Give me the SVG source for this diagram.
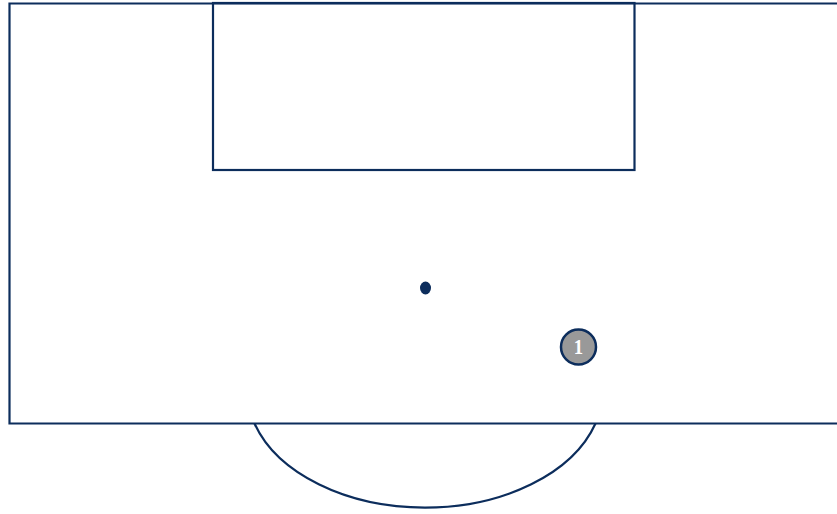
<svg xmlns="http://www.w3.org/2000/svg" width="837" height="514" viewBox="0 0 837 514">
<style>
.line{fill:none;stroke:#0c2d5c;stroke-width:2.2}
.player{fill:#999999;stroke:#0c2d5c;stroke-width:2.5}
.num{font-family:"Liberation Serif",serif;font-weight:bold;font-size:22px;fill:#ffffff;text-anchor:middle}
</style>
<rect width="837" height="514" fill="#ffffff"/>
<g id="pitch">
<path class="line" d="M845,3.5 H9.5 V423.5 H845"/>
<rect class="line" x="213" y="3" width="421.5" height="167"/>
<path class="line" d="M254.5,423.5 A178,118 0 0 0 595.5,423.5"/>
<ellipse cx="425.5" cy="288" rx="5.5" ry="6.5" fill="#0c2d5c"/>
</g>
<g id="player1">
<circle class="player" cx="578.5" cy="347" r="17.5"/>
<text class="num" x="578.5" y="354.5" transform="translate(578.5 0) scale(0.85 1) translate(-578.5 0)">1</text>
</g>
</svg>
